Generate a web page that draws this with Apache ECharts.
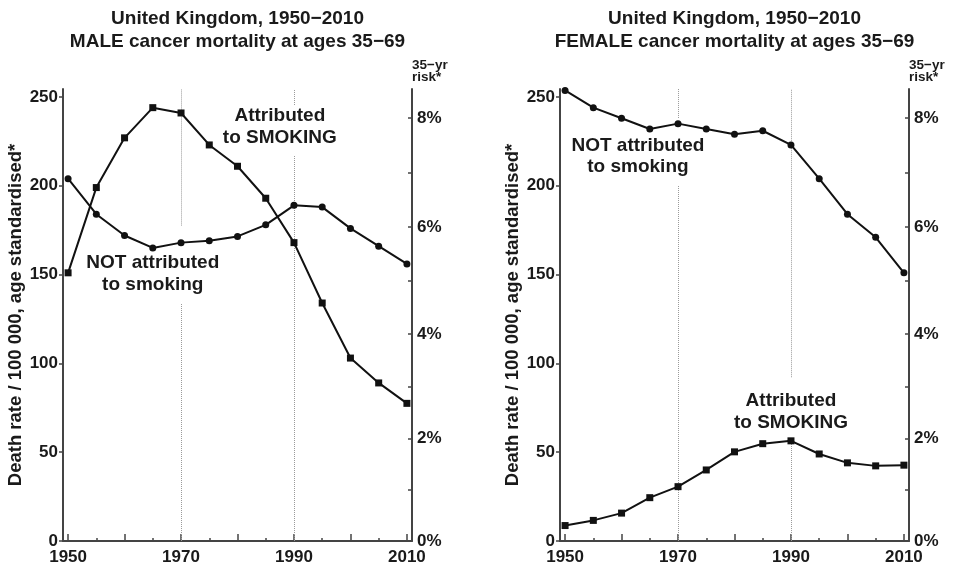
<!DOCTYPE html>
<html>
<head>
<meta charset="utf-8">
<script src="https://cdn.jsdelivr.net/npm/echarts@6/dist/echarts.min.js"></script>
<style>
html,body{margin:0;padding:0;background:#fff;}
#chart{width:958px;height:569px;}
</style>
</head>
<body>
<div id="chart"></div>
<script>
// ---- data ----
const years = [1950,1955,1960,1965,1970,1975,1980,1985,1990,1995,2000,2005,2010];
const maleSmoking    = [151,199,227,244,241,223,211,193,168,134,103,89,77.5];
const maleNotSmoking = [204,184,172,165,168,169,171.5,178,189,188,176,166,156];
const femaleNotSmoking = [253.7,244,238,232,235,232,229,231,223,204,184,171,151];
const femaleSmoking    = [8.7,11.6,15.7,24.4,30.6,40,50.2,54.8,56.4,49,44,42.3,42.7];

const titleMale = 'United Kingdom, 1950\u22122010\nMALE cancer mortality at ages 35\u221269';
const titleFemale = 'United Kingdom, 1950\u22122010\nFEMALE cancer mortality at ages 35\u221269';
const yName = 'Death rate / 100 000, age standardised*';
const riskName = '35\u2212yr\nrisk*';

const yTicks = [0,50,100,150,200,250];
const xLabelYears = [1950,1970,1990,2010];
const xMajorYears = [1950,1960,1970,1980,1990,2000,2010];
const xMinorYears = [1955,1965,1975,1985,1995,2005];
const riskLabels = [0,2,4,6,8];        // %
const riskTicks  = [1,2,3,4,5,6,7,8];  // %

// annotation texts: [year, rate, text]
const maleNotes = [[1987.5,233.1,'Attributed\nto SMOKING'],[1965.0,150.5,'NOT attributed\nto smoking']];
const femaleNotes = [[1962.9,216.5,'NOT attributed\nto smoking'],[1990.0,72.7,'Attributed\nto SMOKING']];

// dotted reference-line segments: [year, from, to]
const maleRefs = [[1970,0,134],[1970,177.6,254.5],[1990,0,217],[1990,245.5,254.5]];
const femaleRefs = [[1970,0,200.4],[1970,238.2,254.5],[1990,0,56.4],[1990,92.2,254.5]];

// 35-year cumulative risk <-> annual rate per 100 000
const riskToRate = p => -Math.log(1 - p/100) / 35 * 1e5;
const rateToRisk = r => (1 - Math.exp(-35 * r / 1e5)) * 100;

const FONT = 'Liberation Sans';
const TXT = '#1a1a1a';
const AX = '#444';
const X_MIN = 1949.1, X_MAX = 2010.9, Y_MAX = 254.5;

const chart = echarts.init(document.getElementById('chart'));

function xAxesFor(gi){
  return [{
    type:'value', gridIndex:gi, min:X_MIN, max:X_MAX,
    axisLine:{show:true, lineStyle:{color:AX, width:2}},
    axisTick:{show:true, inside:true, length:7, customValues:xMajorYears, lineStyle:{color:AX, width:1.5}},
    axisLabel:{customValues:xLabelYears, margin:8, fontFamily:FONT, fontWeight:'bold', fontSize:17, color:TXT,
      formatter: v => String(v)},
    splitLine:{show:false}
  },{
    type:'value', gridIndex:gi, min:X_MIN, max:X_MAX, position:'bottom',
    axisLine:{show:false},
    axisTick:{show:true, inside:true, length:3, customValues:xMinorYears, lineStyle:{color:AX, width:1.5}},
    axisLabel:{show:false}, splitLine:{show:false}
  }];
}
function yAxesFor(gi){
  return [{
    type:'value', gridIndex:gi, min:0, max:Y_MAX, position:'left',
    name:yName, nameLocation:'middle', nameGap:34,
    nameTextStyle:{fontFamily:FONT, fontWeight:'bold', fontSize:18.5, color:TXT},
    axisLine:{show:true, lineStyle:{color:AX, width:2}},
    axisTick:{show:true, inside:false, length:4, customValues:yTicks, lineStyle:{color:AX, width:1.5}},
    axisLabel:{customValues:yTicks, margin:5, fontFamily:FONT, fontWeight:'bold', fontSize:17, color:TXT,
      formatter: v => String(v)},
    splitLine:{show:false}
  },{
    type:'value', gridIndex:gi, min:0, max:Y_MAX, position:'right',
    name:riskName, nameLocation:'end', nameGap:5,
    nameTextStyle:{fontFamily:FONT, fontWeight:'bold', fontSize:13.5, lineHeight:12.5, color:TXT, align:'left', verticalAlign:'bottom'},
    axisLine:{show:true, lineStyle:{color:AX, width:2}},
    axisTick:{show:true, inside:true, length:4, customValues:riskTicks.map(riskToRate), lineStyle:{color:AX, width:1.5}},
    axisLabel:{customValues:riskLabels.map(riskToRate), margin:5, fontFamily:FONT, fontWeight:'bold', fontSize:17, color:TXT,
      formatter: v => Math.round(rateToRisk(v)) + '%'},
    splitLine:{show:false}
  }];
}

function lineSeries(gi, vals, sym){
  return {
    type:'line', xAxisIndex:gi*2, yAxisIndex:gi*2,
    data: years.map((y,i)=>[y, vals[i]]),
    symbol:sym, symbolSize:7, showSymbol:true,
    itemStyle:{color:'#111'}, lineStyle:{color:'#111', width:2}, z:5, silent:true
  };
}
function refSeries(gi, refs){
  return {
    type:'line', xAxisIndex:gi*2, yAxisIndex:gi*2, data:[], z:1, silent:true,
    markLine:{
      silent:true, symbol:['none','none'], label:{show:false},
      lineStyle:{color:'#9a9a9a', type:'dotted', width:1},
      data: refs.map(r => [{coord:[r[0], r[1]]},{coord:[r[0], r[2]]}])
    }
  };
}
function noteSeries(gi, notes){
  return {
    type:'scatter', xAxisIndex:gi*2, yAxisIndex:gi*2, symbolSize:0, z:6, silent:true,
    itemStyle:{opacity:1},
    data: notes.map(n => ({value:[n[0], n[1]], label:{formatter:n[2]}})),
    label:{show:true, position:'inside', fontFamily:FONT, fontWeight:'bold', fontSize:19, lineHeight:21.5, color:TXT, align:'center', opacity:1}
  };
}

const option = {
  backgroundColor:'#fff',
  animation:false,
  title:[
    {text:titleMale, left:237.5, textAlign:'center', top:7, padding:0,
     textStyle:{fontFamily:FONT, fontWeight:'bold', fontSize:19, lineHeight:23, color:TXT}},
    {text:titleFemale, left:734.5, textAlign:'center', top:7, padding:0,
     textStyle:{fontFamily:FONT, fontWeight:'bold', fontSize:19, lineHeight:23, color:TXT}}
  ],
  grid:[
    {left:63, right:546, top:89, bottom:28},
    {left:560, right:49, top:89, bottom:28}
  ],
  xAxis:[...xAxesFor(0), ...xAxesFor(1)],
  yAxis:[...yAxesFor(0), ...yAxesFor(1)],
  series:[
    refSeries(0, maleRefs),
    lineSeries(0, maleSmoking, 'rect'),
    lineSeries(0, maleNotSmoking, 'circle'),
    noteSeries(0, maleNotes),
    refSeries(1, femaleRefs),
    lineSeries(1, femaleNotSmoking, 'circle'),
    lineSeries(1, femaleSmoking, 'rect'),
    noteSeries(1, femaleNotes)
  ]
};
chart.setOption(option);
</script>
</body>
</html>
